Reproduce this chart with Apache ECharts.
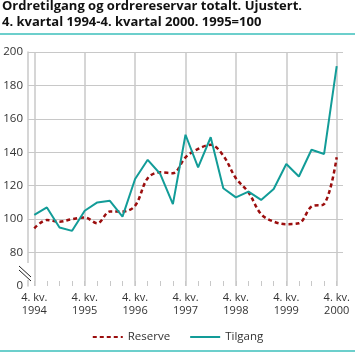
<!DOCTYPE html>
<html>
<head>
<meta charset="utf-8">
<script src="https://cdn.jsdelivr.net/npm/echarts@6/dist/echarts.min.js"></script>
<style>
html,body{margin:0;padding:0;background:#fff;}
#chart{width:355px;height:361px;}
</style>
</head>
<body>
<div id="chart"></div>
<script>
// Quarters: 4th quarter 1994 .. 4th quarter 2000
const quarters = [
  '4. kv.\n1994','1. kv.\n1995','2. kv.\n1995','3. kv.\n1995',
  '4. kv.\n1995','1. kv.\n1996','2. kv.\n1996','3. kv.\n1996',
  '4. kv.\n1996','1. kv.\n1997','2. kv.\n1997','3. kv.\n1997',
  '4. kv.\n1997','1. kv.\n1998','2. kv.\n1998','3. kv.\n1998',
  '4. kv.\n1998','1. kv.\n1999','2. kv.\n1999','3. kv.\n1999',
  '4. kv.\n1999','1. kv.\n2000','2. kv.\n2000','3. kv.\n2000',
  '4. kv.\n2000'
];
const reserve = [94.5, 99.5, 98.5, 100, 101, 97.5, 104.5, 104.5, 108, 124.5, 128, 127.5,
                 137, 142, 144.5, 138, 124.5, 116, 103, 98.5, 97, 97.5, 107.5, 109, 137];
const tilgang = [102.5, 107, 95, 93, 105, 110, 111, 101.5, 124, 135.5, 127, 109,
                 150.5, 131, 149, 118.5, 113, 116.5, 111.5, 118, 133, 125.5, 141.5, 139, 191.5];
const yTicks = [60, 80, 100, 120, 140, 160, 180, 200]; // 60 is drawn as the broken "0"
const yearMarks = quarters.filter(q => q.startsWith('4. kv.'));

const chart = echarts.init(document.getElementById('chart'), null, {renderer: 'canvas'});
const gridColor = '#c8c8c8';
const font = 'Open Sans, Noto Sans, sans-serif';

chart.setOption({
  animation: false,
  backgroundColor: '#fff',
  title: {
    text: 'Ordretilgang og ordrereservar totalt. Ujustert.\n4. kvartal 1994-4. kvartal 2000. 1995=100',
    left: 2, top: -2, padding: 0,
    textStyle: {fontFamily: font, fontSize: 13, fontWeight: 'bold', color: '#111', lineHeight: 16}
  },
  grid: {left: 28, right: 12, top: 52, bottom: 75, containLabel: false},
  xAxis: {
    type: 'category',
    data: quarters,
    boundaryGap: true,
    axisLine: {show: false},
    axisTick: {show: true, inside: true, length: 5, interval: 0, alignWithLabel: true,
               lineStyle: {color: gridColor, width: 1}},
    axisLabel: {interval: 3, margin: 5, fontFamily: font, fontSize: 11, color: '#333', lineHeight: 13},
    splitLine: {show: false}
  },
  yAxis: {
    type: 'value',
    min: yTicks[0], max: yTicks[yTicks.length - 1], interval: 20,
    axisLine: {show: true, lineStyle: {color: gridColor, width: 1.5}},
    axisTick: {show: false},
    axisLabel: {margin: 5, fontFamily: font, fontSize: 11.5, color: '#333',
                formatter: v => (v === yTicks[0] ? '0' : String(v))},
    splitLine: {show: true, lineStyle: {width: 1,
      color: yTicks.map((v, i) => i === 0 ? 'rgba(0,0,0,0)' : gridColor)}}
  },
  legend: {
    bottom: 13, left: 'center',
    itemWidth: 30, itemHeight: 10, itemGap: 19,
    itemStyle: {opacity: 0},
    textStyle: {fontFamily: font, fontSize: 11.5, color: '#333'},
    data: ['Reserve', 'Tilgang']
  },
  series: [
    {
      name: 'Reserve', type: 'line', data: reserve, symbol: 'none', smooth: 0.35, z: 3,
      lineStyle: {color: '#9b0d0d', width: 2.5, type: [4, 3]},
      itemStyle: {color: '#9b0d0d'}
    },
    {
      name: 'Tilgang', type: 'line', data: tilgang, symbol: 'none', z: 4,
      lineStyle: {color: '#129c98', width: 2},
      itemStyle: {color: '#129c98'},
      markLine: {
        silent: true, symbol: ['none', 'none'], z: 1,
        label: {show: false},
        lineStyle: {type: 'solid', color: gridColor, width: 1.5},
        data: yearMarks.map(q => ({xAxis: q}))
      }
    }
  ],
  graphic: [
    {type: 'rect', shape: {x: 0, y: 33, width: 355, height: 2}, style: {fill: '#6ccfcc'}},
    {type: 'rect', shape: {x: 0, y: 350, width: 355, height: 2}, style: {fill: '#6ccfcc'}},
    {type: 'rect', shape: {x: 25, y: 263, width: 6, height: 17}, style: {fill: '#fff'}, z: 100},
    {type: 'line', shape: {x1: 19, y1: 266, x2: 31, y2: 277}, style: {stroke: '#222', lineWidth: 1}, z: 101},
    {type: 'line', shape: {x1: 19, y1: 270, x2: 31, y2: 281}, style: {stroke: '#222', lineWidth: 1}, z: 101}
  ]
});
</script>
</body>
</html>
